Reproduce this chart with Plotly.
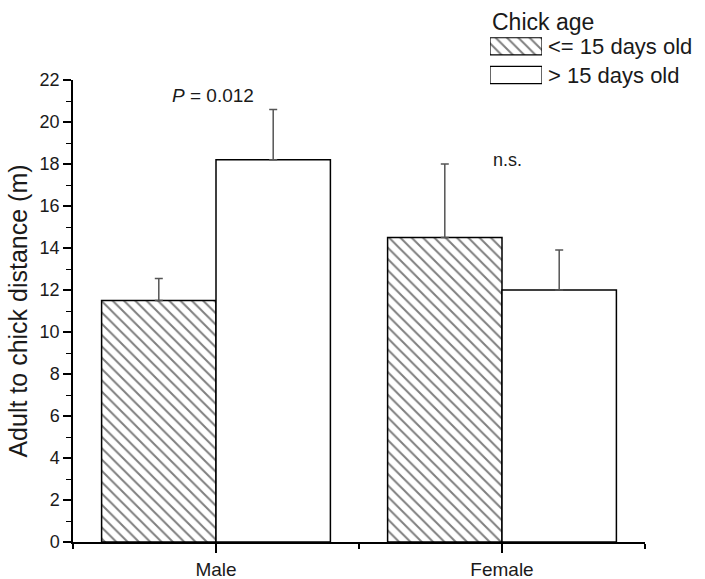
import plotly.graph_objects as go

categories = ["Male", "Female"]
young_vals = [11.5, 14.5]
young_err = [1.05, 3.5]
old_vals = [18.2, 12.0]
old_err = [2.4, 1.9]
series_names = ["<= 15 days old", "> 15 days old"]
legend_title = "Chick age"
y_title = "Adult to chick distance (m)"

W, H = 705, 579
# plot-area pixel box
PL, PR, PT, PB = 73, 645, 80, 542
FONT = "Liberation Sans, Arial, sans-serif"
TXT = "#1a1a1a"

xpos = list(range(len(categories)))
hatch = dict(shape="\\", fgcolor="black", bgcolor="white", size=8, solidity=0.25)
errstyle = dict(type="data", symmetric=False, color="#555555", thickness=1.5, width=4)

fig = go.Figure()
fig.add_trace(go.Bar(
    x=xpos, y=young_vals, name=series_names[0], showlegend=False,
    marker=dict(color="white", line=dict(color="black", width=1.5), pattern=hatch),
    error_y=dict(array=young_err, arrayminus=[0] * len(young_err), **errstyle),
    width=0.4,
))
fig.add_trace(go.Bar(
    x=xpos, y=old_vals, name=series_names[1], showlegend=False,
    marker=dict(color="white", line=dict(color="black", width=1.5)),
    error_y=dict(array=old_err, arrayminus=[0] * len(old_err), **errstyle),
    width=0.4,
))

# legend swatches drawn as bars on a small helper axis
LEG_Y0, LEG_Y1 = 32, 89.4  # pixel span of the two legend rows
fig.add_trace(go.Bar(
    x=[1], y=[0], orientation="h", xaxis="x2", yaxis="y2", width=0.6,
    showlegend=False, hoverinfo="skip",
    marker=dict(color="white", line=dict(color="black", width=1.2), pattern=hatch),
))
fig.add_trace(go.Bar(
    x=[1], y=[1], orientation="h", xaxis="x2", yaxis="y2", width=0.6,
    showlegend=False, hoverinfo="skip",
    marker=dict(color="white", line=dict(color="black", width=1.2)),
))

fig.update_layout(
    width=W, height=H,
    margin=dict(l=0, r=0, t=0, b=0, autoexpand=False),
    paper_bgcolor="white", plot_bgcolor="white",
    barmode="group", bargap=0.2, bargroupgap=0,
    font=dict(family=FONT, color=TXT),
    xaxis=dict(
        domain=[PL / W, PR / W],
        range=[-0.5, 1.5], tickvals=xpos, ticktext=categories,
        showline=True, linecolor="black", linewidth=1.5,
        ticks="outside", ticklen=9, tickwidth=1.5, tickcolor="black",
        tickfont=dict(size=19, color=TXT), showgrid=False, zeroline=False,
        minor=dict(tickvals=[-0.5, 0.5, 1.5], ticks="outside", ticklen=5,
                   tickwidth=1.5, tickcolor="black", showgrid=False),
    ),
    yaxis=dict(
        domain=[1 - PB / H, 1 - PT / H],
        range=[0, 22], dtick=2, tick0=0,
        showline=True, linecolor="black", linewidth=1.5,
        ticks="outside", ticklen=8, tickwidth=1.5, tickcolor="black",
        tickfont=dict(size=18, color=TXT), showgrid=False, zeroline=False,
        title=dict(text=y_title, font=dict(size=25, color=TXT), standoff=5),
        minor=dict(dtick=1, ticks="outside", ticklen=5, tickwidth=1.2,
                   tickcolor="black", showgrid=False),
    ),
    xaxis2=dict(domain=[490 / W, 542 / W], range=[0, 1], visible=False,
                fixedrange=True, anchor="y2"),
    yaxis2=dict(domain=[1 - LEG_Y1 / H, 1 - LEG_Y0 / H], range=[1.5, -0.5], visible=False,
                fixedrange=True, anchor="x2"),
)

# legend texts
fig.add_annotation(x=490 / W, y=1 - 22 / H, xref="paper", yref="paper", text=legend_title,
                   showarrow=False, xanchor="left", yanchor="middle",
                   font=dict(size=23, color=TXT))
row_h = (LEG_Y1 - LEG_Y0) / 2
for i, name in enumerate(series_names):
    ypix = LEG_Y0 + row_h * (i + 0.5)
    fig.add_annotation(x=546 / W, y=1 - ypix / H, xref="paper", yref="paper", text=name,
                       showarrow=False, xanchor="left", yanchor="middle",
                       font=dict(size=22, color=TXT))

# significance labels
fig.add_annotation(x=-0.16, y=21.25, xref="x", yref="y", text="<i>P</i> = 0.012",
                   showarrow=False, font=dict(size=19, color=TXT), xanchor="left")
fig.add_annotation(x=0.96, y=18.2, xref="x", yref="y", text="n.s.",
                   showarrow=False, font=dict(size=18, color=TXT), xanchor="left")

fig.write_html("out.html")
